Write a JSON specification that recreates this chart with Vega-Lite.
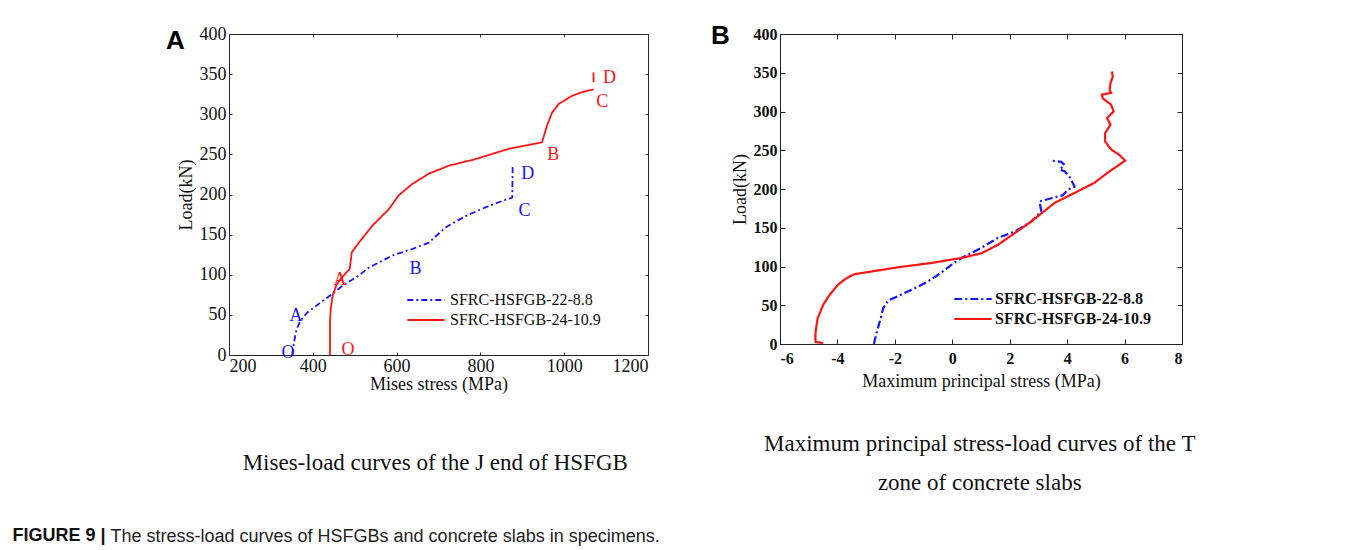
{
  "$schema": "https://vega.github.io/schema/vega-lite/v6.json",
  "padding": {"left": 12, "top": 22, "right": 10, "bottom": 6},
  "background": "white",
  "title": {"text": "The stress-load curves of HSFGBs and concrete slabs in specimens.", "orient": "bottom", "anchor": "start", "frame": "bounds", "dx": 98, "dy": -17, "offset": 0, "font": "Liberation Sans", "fontSize": 18, "fontWeight": "normal", "color": "#222"},
  "datasets": {
    "aline": [
      {"s": "SFRC-HSFGB-22-8.8", "seg": 1, "x": 351, "y": 0},
      {"s": "SFRC-HSFGB-22-8.8", "seg": 1, "x": 355, "y": 15},
      {"s": "SFRC-HSFGB-22-8.8", "seg": 1, "x": 361, "y": 32},
      {"s": "SFRC-HSFGB-22-8.8", "seg": 1, "x": 371, "y": 43},
      {"s": "SFRC-HSFGB-22-8.8", "seg": 1, "x": 387, "y": 53},
      {"s": "SFRC-HSFGB-22-8.8", "seg": 1, "x": 415, "y": 64},
      {"s": "SFRC-HSFGB-22-8.8", "seg": 1, "x": 446, "y": 76},
      {"s": "SFRC-HSFGB-22-8.8", "seg": 1, "x": 470, "y": 86},
      {"s": "SFRC-HSFGB-22-8.8", "seg": 1, "x": 510, "y": 99},
      {"s": "SFRC-HSFGB-22-8.8", "seg": 1, "x": 534, "y": 109},
      {"s": "SFRC-HSFGB-22-8.8", "seg": 1, "x": 590, "y": 124},
      {"s": "SFRC-HSFGB-22-8.8", "seg": 1, "x": 637, "y": 132},
      {"s": "SFRC-HSFGB-22-8.8", "seg": 1, "x": 677, "y": 140},
      {"s": "SFRC-HSFGB-22-8.8", "seg": 1, "x": 717, "y": 159},
      {"s": "SFRC-HSFGB-22-8.8", "seg": 1, "x": 764, "y": 173},
      {"s": "SFRC-HSFGB-22-8.8", "seg": 1, "x": 812, "y": 184},
      {"s": "SFRC-HSFGB-22-8.8", "seg": 1, "x": 852, "y": 192},
      {"s": "SFRC-HSFGB-22-8.8", "seg": 1, "x": 876, "y": 196},
      {"s": "SFRC-HSFGB-22-8.8", "seg": 1, "x": 877, "y": 236},
      {"s": "SFRC-HSFGB-24-10.9", "seg": 1, "x": 441, "y": 0},
      {"s": "SFRC-HSFGB-24-10.9", "seg": 1, "x": 441, "y": 41},
      {"s": "SFRC-HSFGB-24-10.9", "seg": 1, "x": 443, "y": 59},
      {"s": "SFRC-HSFGB-24-10.9", "seg": 1, "x": 448, "y": 75},
      {"s": "SFRC-HSFGB-24-10.9", "seg": 1, "x": 456, "y": 87},
      {"s": "SFRC-HSFGB-24-10.9", "seg": 1, "x": 468, "y": 96},
      {"s": "SFRC-HSFGB-24-10.9", "seg": 1, "x": 488, "y": 107},
      {"s": "SFRC-HSFGB-24-10.9", "seg": 1, "x": 493, "y": 128},
      {"s": "SFRC-HSFGB-24-10.9", "seg": 1, "x": 510, "y": 140},
      {"s": "SFRC-HSFGB-24-10.9", "seg": 1, "x": 542, "y": 161},
      {"s": "SFRC-HSFGB-24-10.9", "seg": 1, "x": 582, "y": 182},
      {"s": "SFRC-HSFGB-24-10.9", "seg": 1, "x": 605, "y": 199},
      {"s": "SFRC-HSFGB-24-10.9", "seg": 1, "x": 637, "y": 213},
      {"s": "SFRC-HSFGB-24-10.9", "seg": 1, "x": 677, "y": 226},
      {"s": "SFRC-HSFGB-24-10.9", "seg": 1, "x": 725, "y": 236},
      {"s": "SFRC-HSFGB-24-10.9", "seg": 1, "x": 788, "y": 244},
      {"s": "SFRC-HSFGB-24-10.9", "seg": 1, "x": 868, "y": 257},
      {"s": "SFRC-HSFGB-24-10.9", "seg": 1, "x": 947, "y": 265},
      {"s": "SFRC-HSFGB-24-10.9", "seg": 1, "x": 959, "y": 286},
      {"s": "SFRC-HSFGB-24-10.9", "seg": 1, "x": 971, "y": 302},
      {"s": "SFRC-HSFGB-24-10.9", "seg": 1, "x": 987, "y": 313},
      {"s": "SFRC-HSFGB-24-10.9", "seg": 1, "x": 1019, "y": 323},
      {"s": "SFRC-HSFGB-24-10.9", "seg": 1, "x": 1045, "y": 328},
      {"s": "SFRC-HSFGB-24-10.9", "seg": 1, "x": 1070, "y": 331},
      {"s": "SFRC-HSFGB-24-10.9", "seg": 2, "x": 1070, "y": 340},
      {"s": "SFRC-HSFGB-24-10.9", "seg": 2, "x": 1070, "y": 352}
    ],
    "alab": [
      {"s": "SFRC-HSFGB-22-8.8", "t": "O", "x": 341, "y": 2},
      {"s": "SFRC-HSFGB-22-8.8", "t": "A", "x": 360, "y": 49},
      {"s": "SFRC-HSFGB-22-8.8", "t": "B", "x": 645, "y": 107},
      {"s": "SFRC-HSFGB-22-8.8", "t": "C", "x": 905, "y": 179},
      {"s": "SFRC-HSFGB-22-8.8", "t": "D", "x": 913, "y": 225},
      {"s": "SFRC-HSFGB-24-10.9", "t": "A", "x": 465, "y": 93},
      {"s": "SFRC-HSFGB-24-10.9", "t": "O", "x": 484, "y": 6},
      {"s": "SFRC-HSFGB-24-10.9", "t": "B", "x": 974, "y": 249},
      {"s": "SFRC-HSFGB-24-10.9", "t": "C", "x": 1091, "y": 315},
      {"s": "SFRC-HSFGB-24-10.9", "t": "D", "x": 1108, "y": 345}
    ],
    "bline": [
      {"s": "SFRC-HSFGB-22-8.8", "x": -2.73, "y": 0},
      {"s": "SFRC-HSFGB-22-8.8", "x": -2.64, "y": 14},
      {"s": "SFRC-HSFGB-22-8.8", "x": -2.49, "y": 33.5},
      {"s": "SFRC-HSFGB-22-8.8", "x": -2.41, "y": 46},
      {"s": "SFRC-HSFGB-22-8.8", "x": -2.23, "y": 56},
      {"s": "SFRC-HSFGB-22-8.8", "x": -1.77, "y": 64},
      {"s": "SFRC-HSFGB-22-8.8", "x": -1.19, "y": 74},
      {"s": "SFRC-HSFGB-22-8.8", "x": -0.84, "y": 81},
      {"s": "SFRC-HSFGB-22-8.8", "x": -0.5, "y": 89},
      {"s": "SFRC-HSFGB-22-8.8", "x": -0.03, "y": 102},
      {"s": "SFRC-HSFGB-22-8.8", "x": 0.32, "y": 111},
      {"s": "SFRC-HSFGB-22-8.8", "x": 1.01, "y": 124},
      {"s": "SFRC-HSFGB-22-8.8", "x": 1.59, "y": 137},
      {"s": "SFRC-HSFGB-22-8.8", "x": 2.17, "y": 145},
      {"s": "SFRC-HSFGB-22-8.8", "x": 2.75, "y": 158},
      {"s": "SFRC-HSFGB-22-8.8", "x": 3.1, "y": 171},
      {"s": "SFRC-HSFGB-22-8.8", "x": 3.04, "y": 184},
      {"s": "SFRC-HSFGB-22-8.8", "x": 3.45, "y": 188},
      {"s": "SFRC-HSFGB-22-8.8", "x": 3.85, "y": 192},
      {"s": "SFRC-HSFGB-22-8.8", "x": 4.02, "y": 199},
      {"s": "SFRC-HSFGB-22-8.8", "x": 4.26, "y": 203},
      {"s": "SFRC-HSFGB-22-8.8", "x": 4.08, "y": 216},
      {"s": "SFRC-HSFGB-22-8.8", "x": 3.91, "y": 223},
      {"s": "SFRC-HSFGB-22-8.8", "x": 3.74, "y": 225},
      {"s": "SFRC-HSFGB-22-8.8", "x": 3.91, "y": 231},
      {"s": "SFRC-HSFGB-22-8.8", "x": 3.79, "y": 235},
      {"s": "SFRC-HSFGB-22-8.8", "x": 3.39, "y": 237},
      {"s": "SFRC-HSFGB-24-10.9", "x": -4.5, "y": 1},
      {"s": "SFRC-HSFGB-24-10.9", "x": -4.62, "y": 2},
      {"s": "SFRC-HSFGB-24-10.9", "x": -4.76, "y": 2.5},
      {"s": "SFRC-HSFGB-24-10.9", "x": -4.77, "y": 8},
      {"s": "SFRC-HSFGB-24-10.9", "x": -4.76, "y": 16},
      {"s": "SFRC-HSFGB-24-10.9", "x": -4.69, "y": 33},
      {"s": "SFRC-HSFGB-24-10.9", "x": -4.49, "y": 51},
      {"s": "SFRC-HSFGB-24-10.9", "x": -4.26, "y": 64},
      {"s": "SFRC-HSFGB-24-10.9", "x": -3.97, "y": 77},
      {"s": "SFRC-HSFGB-24-10.9", "x": -3.68, "y": 85},
      {"s": "SFRC-HSFGB-24-10.9", "x": -3.42, "y": 90},
      {"s": "SFRC-HSFGB-24-10.9", "x": -1.89, "y": 99},
      {"s": "SFRC-HSFGB-24-10.9", "x": -0.73, "y": 104.5},
      {"s": "SFRC-HSFGB-24-10.9", "x": 0.32, "y": 111},
      {"s": "SFRC-HSFGB-24-10.9", "x": 1.01, "y": 117},
      {"s": "SFRC-HSFGB-24-10.9", "x": 1.59, "y": 128},
      {"s": "SFRC-HSFGB-24-10.9", "x": 2.17, "y": 143},
      {"s": "SFRC-HSFGB-24-10.9", "x": 2.75, "y": 158},
      {"s": "SFRC-HSFGB-24-10.9", "x": 3.56, "y": 182},
      {"s": "SFRC-HSFGB-24-10.9", "x": 4.26, "y": 195},
      {"s": "SFRC-HSFGB-24-10.9", "x": 4.95, "y": 208},
      {"s": "SFRC-HSFGB-24-10.9", "x": 5.41, "y": 221},
      {"s": "SFRC-HSFGB-24-10.9", "x": 6.02, "y": 236.6},
      {"s": "SFRC-HSFGB-24-10.9", "x": 5.82, "y": 244},
      {"s": "SFRC-HSFGB-24-10.9", "x": 5.53, "y": 251},
      {"s": "SFRC-HSFGB-24-10.9", "x": 5.32, "y": 261.5},
      {"s": "SFRC-HSFGB-24-10.9", "x": 5.32, "y": 272},
      {"s": "SFRC-HSFGB-24-10.9", "x": 5.51, "y": 283},
      {"s": "SFRC-HSFGB-24-10.9", "x": 5.39, "y": 291.6},
      {"s": "SFRC-HSFGB-24-10.9", "x": 5.62, "y": 300},
      {"s": "SFRC-HSFGB-24-10.9", "x": 5.53, "y": 308.8},
      {"s": "SFRC-HSFGB-24-10.9", "x": 5.24, "y": 317},
      {"s": "SFRC-HSFGB-24-10.9", "x": 5.21, "y": 321.7},
      {"s": "SFRC-HSFGB-24-10.9", "x": 5.53, "y": 324},
      {"s": "SFRC-HSFGB-24-10.9", "x": 5.48, "y": 328},
      {"s": "SFRC-HSFGB-24-10.9", "x": 5.51, "y": 336.6},
      {"s": "SFRC-HSFGB-24-10.9", "x": 5.59, "y": 345},
      {"s": "SFRC-HSFGB-24-10.9", "x": 5.56, "y": 351.6}
    ]
  },
  "vconcat": [
    {
      "title": {"text": "FIGURE 9 |", "orient": "bottom", "anchor": "start", "frame": "bounds", "dx": -153, "offset": 32, "font": "Liberation Sans", "fontSize": 18, "fontWeight": "bold", "color": "#111"},
      "spacing": 61,
      "resolve": {"scale": {"color": "independent", "strokeDash": "independent"}, "legend": {"color": "independent", "strokeDash": "independent"}},
      "hconcat": [
        {
          "title": {"text": "Mises-load curves of the J end of HSFGB", "orient": "bottom", "anchor": "middle", "offset": 58, "dx": 28, "font": "Liberation Serif", "fontSize": 23, "fontWeight": "normal", "color": "#111"},
          "vconcat": [
            {
              "title": {"text": "A", "anchor": "start", "frame": "bounds", "dx": -11, "offset": -29, "font": "Liberation Sans", "fontSize": 26, "fontWeight": "bold", "color": "#000"},
              "width": 419,
              "height": 321,
              "layer": [
                {
                  "data": {"name": "aline"},
                  "mark": {"type": "line", "strokeWidth": 1.8},
                  "encoding": {
                    "x": {"field": "x", "type": "quantitative", "scale": {"domain": [200, 1200], "nice": false, "zero": false},
                      "axis": {"title": "Mises stress (MPa)", "values": [200, 400, 600, 800, 1000, 1200], "labelExpr": "'' + datum.value", "grid": false, "domain": false, "tickSize": -3, "tickColor": "#333", "labelPadding": 5, "labelFont": "Liberation Serif", "labelFontSize": 18, "labelColor": "#111", "titleFont": "Liberation Serif", "titleFontSize": 18, "titleFontWeight": "normal", "titleColor": "#111", "titlePadding": 0}},
                    "y": {"field": "y", "type": "quantitative", "scale": {"domain": [0, 400], "nice": false},
                      "axis": {"title": "Load(kN)", "values": [0, 50, 100, 150, 200, 250, 300, 350, 400], "grid": false, "domain": false, "tickSize": -3, "tickColor": "#333", "labelPadding": 6, "labelFont": "Liberation Serif", "labelFontSize": 18, "labelColor": "#111", "titleFont": "Liberation Serif", "titleFontSize": 18, "titleFontWeight": "normal", "titleColor": "#111", "titlePadding": 4}},
                    "color": {"field": "s", "type": "nominal", "scale": {"domain": ["SFRC-HSFGB-22-8.8", "SFRC-HSFGB-24-10.9"], "range": ["#1414ff", "#ff1414"]},
                      "legend": {"title": null, "orient": "none", "legendX": 185, "legendY": 254, "symbolType": "M-1.7,0H1.7", "symbolSize": 484, "symbolStrokeWidth": 2, "symbolFillColor": "transparent", "labelFont": "Liberation Serif", "labelFontSize": 16, "labelFontWeight": "normal", "labelColor": "#111", "rowPadding": 0, "labelOffset": 12}},
                    "strokeDash": {"field": "s", "type": "nominal", "scale": {"domain": ["SFRC-HSFGB-22-8.8", "SFRC-HSFGB-24-10.9"], "range": [[6, 3, 2, 3], [1, 0]]},
                      "legend": {"title": null, "orient": "none", "legendX": 185, "legendY": 254, "symbolType": "M-1.7,0H1.7", "symbolSize": 484, "symbolStrokeWidth": 2, "symbolFillColor": "transparent", "labelFont": "Liberation Serif", "labelFontSize": 16, "labelFontWeight": "normal", "labelColor": "#111", "rowPadding": 0, "labelOffset": 12}},
                    "detail": {"field": "seg", "type": "nominal"},
                    "order": {"value": null}
                  }
                },
                {
                  "data": {"name": "alab"},
                  "transform": [{"filter": "datum.s === 'SFRC-HSFGB-22-8.8'"}],
                  "mark": {"type": "text", "color": "#1414ff", "font": "Liberation Serif", "fontSize": 18, "align": "center", "baseline": "middle"},
                  "encoding": {
                    "x": {"field": "x", "type": "quantitative", "scale": {"domain": [200, 1200], "nice": false, "zero": false}, "axis": {"orient": "top", "title": null, "labels": false, "domain": false, "grid": false, "tickSize": -3, "tickColor": "#333", "values": [200, 400, 600, 800, 1000, 1200]}},
                    "y": {"field": "y", "type": "quantitative", "scale": {"domain": [0, 400], "nice": false}, "axis": {"orient": "right", "title": null, "labels": false, "domain": false, "grid": false, "tickSize": -3, "tickColor": "#333", "values": [0, 50, 100, 150, 200, 250, 300, 350, 400]}},
                    "text": {"field": "t"}
                  }
                },
                {
                  "data": {"name": "alab"},
                  "transform": [{"filter": "datum.s === 'SFRC-HSFGB-24-10.9'"}],
                  "mark": {"type": "text", "color": "#ff1414", "font": "Liberation Serif", "fontSize": 18, "align": "center", "baseline": "middle"},
                  "encoding": {
                    "x": {"field": "x", "type": "quantitative", "scale": {"domain": [200, 1200], "nice": false, "zero": false}, "axis": null},
                    "y": {"field": "y", "type": "quantitative", "scale": {"domain": [0, 400], "nice": false}, "axis": null},
                    "text": {"field": "t"}
                  }
                }
              ],
              "resolve": {"axis": {"x": "independent", "y": "independent"}}
            }
          ]
        },
        {
          "title": {"text": ["Maximum principal stress-load curves of the T", "zone of concrete slabs"], "orient": "bottom", "anchor": "middle", "offset": 42, "dx": 33, "lineHeight": 39, "font": "Liberation Serif", "fontSize": 23, "fontWeight": "normal", "color": "#111"},
          "vconcat": [
            {
              "title": {"text": "B", "anchor": "start", "frame": "bounds", "dx": -20, "offset": -23, "font": "Liberation Sans", "fontSize": 26, "fontWeight": "bold", "color": "#000"},
              "width": 402,
              "height": 310,
              "layer": [
                {
                  "data": {"name": "bline"},
                  "mark": {"type": "line", "strokeWidth": 2.2},
                  "encoding": {
                    "x": {"field": "x", "type": "quantitative", "scale": {"domain": [-6, 8], "nice": false, "zero": false},
                      "axis": {"title": "Maximum principal stress (MPa)", "values": [-6, -4, -2, 0, 2, 4, 6, 8], "labelExpr": "'' + datum.value", "grid": false, "domain": false, "tickSize": -5, "tickColor": "#222", "labelPadding": 11, "labelFont": "Liberation Serif", "labelFontSize": 16, "labelFontWeight": "bold", "labelColor": "#111", "titleFont": "Liberation Serif", "titleFontSize": 18, "titleFontWeight": "normal", "titleColor": "#111", "titlePadding": 6}},
                    "y": {"field": "y", "type": "quantitative", "scale": {"domain": [0, 400], "nice": false},
                      "axis": {"title": "Load(kN)", "values": [0, 50, 100, 150, 200, 250, 300, 350, 400], "grid": false, "domain": false, "tickSize": -5, "tickColor": "#222", "labelPadding": 8, "labelFont": "Liberation Serif", "labelFontSize": 16, "labelFontWeight": "bold", "labelColor": "#111", "titleFont": "Liberation Serif", "titleFontSize": 18, "titleFontWeight": "normal", "titleColor": "#111", "titlePadding": 4}},
                    "color": {"field": "s", "type": "nominal", "scale": {"domain": ["SFRC-HSFGB-22-8.8", "SFRC-HSFGB-24-10.9"], "range": ["#1414ff", "#ff1414"]},
                      "legend": {"title": null, "orient": "none", "legendX": 181, "legendY": 253, "symbolType": "M-1.7,0H1.7", "symbolSize": 484, "symbolStrokeWidth": 2, "symbolFillColor": "transparent", "labelFont": "Liberation Serif", "labelFontSize": 16, "labelFontWeight": "bold", "labelColor": "#111", "rowPadding": 0, "labelOffset": 10}},
                    "strokeDash": {"field": "s", "type": "nominal", "scale": {"domain": ["SFRC-HSFGB-22-8.8", "SFRC-HSFGB-24-10.9"], "range": [[8, 3, 2, 3], [1, 0]]},
                      "legend": {"title": null, "orient": "none", "legendX": 181, "legendY": 253, "symbolType": "M-1.7,0H1.7", "symbolSize": 484, "symbolStrokeWidth": 2, "symbolFillColor": "transparent", "labelFont": "Liberation Serif", "labelFontSize": 16, "labelFontWeight": "bold", "labelColor": "#111", "rowPadding": 0, "labelOffset": 10}},
                    "order": {"value": null}
                  }
                },
                {
                  "data": {"name": "bline"},
                  "mark": {"type": "line", "opacity": 0},
                  "encoding": {
                    "x": {"field": "x", "type": "quantitative", "scale": {"domain": [-6, 8], "nice": false, "zero": false}, "axis": {"orient": "top", "title": null, "labels": false, "domain": false, "grid": false, "tickSize": -5, "tickColor": "#222", "values": [-6, -4, -2, 0, 2, 4, 6, 8]}},
                    "y": {"field": "y", "type": "quantitative", "scale": {"domain": [0, 400], "nice": false}, "axis": {"orient": "right", "title": null, "labels": false, "domain": false, "grid": false, "tickSize": -5, "tickColor": "#222", "values": [0, 50, 100, 150, 200, 250, 300, 350, 400]}},
                    "order": {"value": null}
                  }
                }
              ],
              "resolve": {"axis": {"x": "independent", "y": "independent"}}
            }
          ]
        }
      ]
    }
  ],
  "config": {"view": {"stroke": "#222", "strokeWidth": 1}}
}
